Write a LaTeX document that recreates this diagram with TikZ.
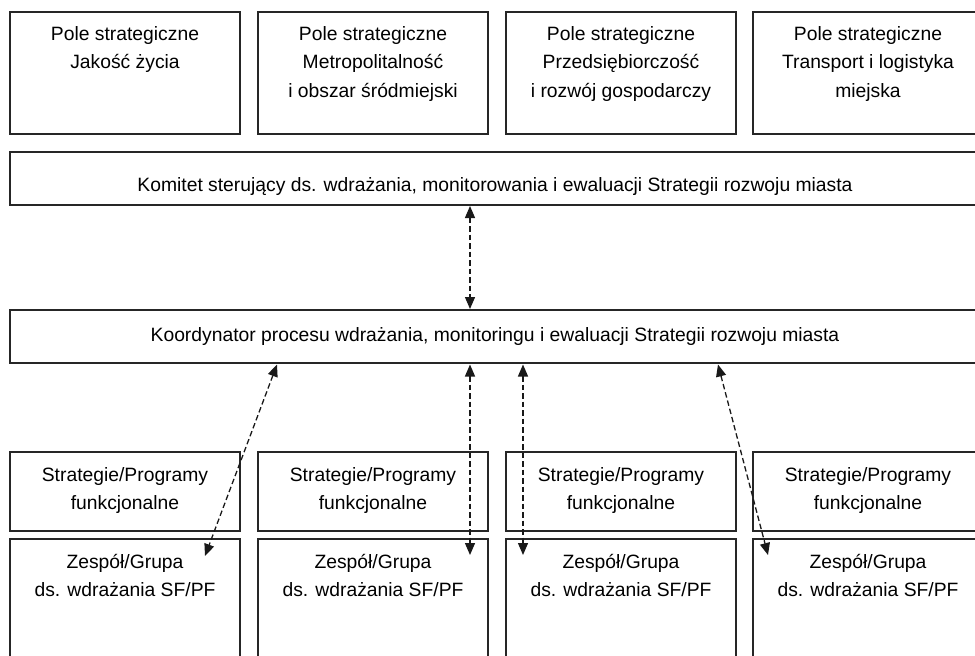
\documentclass[tikz,border=0pt]{standalone}
\usepackage{fontspec}
\setmainfont{Liberation Sans}
\usetikzlibrary{arrows.meta}
\newcommand{\mltext}[1]{\begin{tabular}[t]{@{}c@{}}#1\end{tabular}}
\tikzset{
  box/.style={draw=black!85, line width=1.3pt, rectangle, inner sep=0pt, outer sep=0pt, anchor=north west},
  lbl/.style={anchor=base, inner sep=0pt, font=\fontsize{19.3}{28.5}\selectfont},
  arr/.style={line width=1.3pt, dash pattern=on 5.5pt off 3pt, {Triangle[length=12pt,width=10pt]}-{Triangle[length=12pt,width=10pt]}, black!90}
}
\begin{document}
\begin{tikzpicture}[x=1pt,y=-1pt]
\useasboundingbox (0,0) rectangle (975,656);
\clip (0,0) rectangle (975,656);
% top boxes
\node[box, minimum width=230pt, minimum height=122pt] (p1) at (10,12) {};
\node[box, minimum width=230pt, minimum height=122pt] (p2) at (258,12) {};
\node[box, minimum width=230pt, minimum height=122pt] (p3) at (506,12) {};
\node[box, minimum width=230pt, minimum height=122pt] (p4) at (753,12) {};
\node[lbl] (tp1) at (125,40) {\mltext{Pole strategiczne\\Jakość życia}};
\node[lbl] (tp2) at (373,40) {\mltext{Pole strategiczne\\Metropolitalność\\i obszar śródmiejski}};
\node[lbl] (tp3) at (621,40) {\mltext{Pole strategiczne\\Przedsiębiorczość\\i rozwój gospodarczy}};
\node[lbl] (tp4) at (868,40) {\mltext{Pole strategiczne\\Transport i logistyka\\miejska}};
% komitet
\node[box, minimum width=972pt, minimum height=53pt] (kom) at (10,152) {};
\node[lbl] (tkom) at (495,191) {Komitet sterujący ds. wdrażania, monitorowania i ewaluacji Strategii rozwoju miasta};
% koordynator
\node[box, minimum width=972pt, minimum height=53pt] (koo) at (10,310) {};
\node[lbl] (tkoo) at (495,341) {Koordynator procesu wdrażania, monitoringu i ewaluacji Strategii rozwoju miasta};
% bottom boxes
\foreach \i/\x in {1/10,2/258,3/506,4/753}{
  \node[box, minimum width=230pt, minimum height=79pt] (s\i) at (\x,452) {};
  \node[box, minimum width=230pt, minimum height=140pt] (z\i) at (\x,539) {};
  \node[lbl] (ts\i) at (\x+115,481) {\mltext{Strategie/Programy\\funkcjonalne}};
  \node[lbl] (tz\i) at (\x+115,568) {\mltext{Zespół/Grupa\\ds. wdrażania SF/PF}};
}
% connector end points
\coordinate (c0a) at (470,206);
\coordinate (c0b) at (470,309);
\coordinate (c1a) at (277,364.5);
\coordinate (c1b) at (205,556);
\coordinate (c2a) at (470,364.5);
\coordinate (c2b) at (470,555);
\coordinate (c3a) at (523,364.5);
\coordinate (c3b) at (523,555);
\coordinate (c4a) at (718,364.5);
\coordinate (c4b) at (768,555);
\draw[arr] (c0a) -- (c0b);
\draw[arr] (c1a) -- (c1b);
\draw[arr] (c2a) -- (c2b);
\draw[arr] (c3a) -- (c3b);
\draw[arr] (c4a) -- (c4b);
\end{tikzpicture}
\end{document}
